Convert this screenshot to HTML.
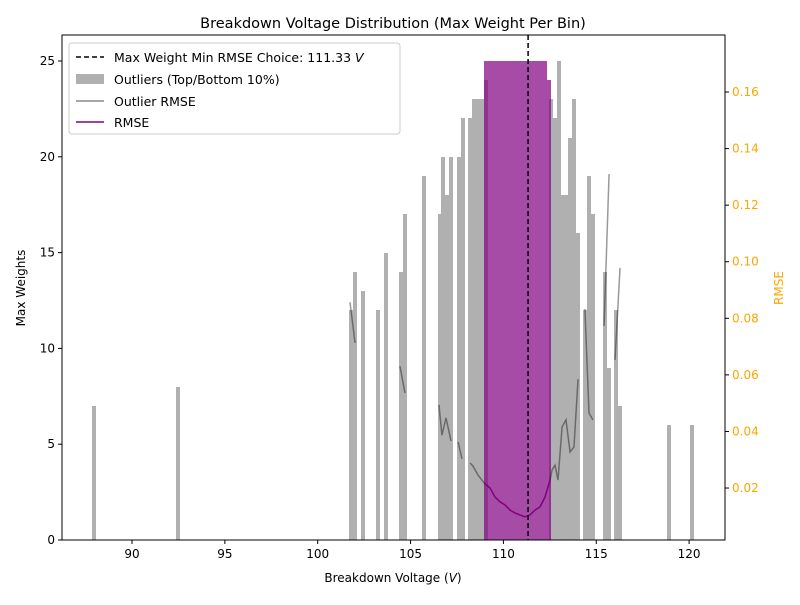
<!DOCTYPE html>
<html><head><meta charset="utf-8"><style>
body{margin:0;background:#fff}
svg{font-family:"DejaVu Sans","Liberation Sans",sans-serif}
</style></head><body>
<svg id="chart" width="800" height="600" xmlns="http://www.w3.org/2000/svg">
<rect width="800" height="600" fill="#fff"/>
<text x="393" y="28" text-anchor="middle" font-size="14.5">Breakdown Voltage Distribution (Max Weight Per Bin)</text>
<g id="plot"></g>
<text x="393" y="582" text-anchor="middle" font-size="12">Breakdown Voltage (<tspan font-style="italic">V</tspan>)</text>
<text transform="translate(25,288) rotate(-90)" text-anchor="middle" font-size="12">Max Weights</text>
<text transform="translate(783,288) rotate(-90)" text-anchor="middle" font-size="12" fill="orange">RMSE</text>
<g>
<rect x="69" y="43" width="331" height="91" rx="3" fill="#fff" fill-opacity="0.8" stroke="#ccc"/>
<line x1="76" y1="57" x2="104" y2="57" stroke="#000" stroke-width="1.5" stroke-dasharray="5,3"/>
<text x="114" y="62" font-size="12.5">Max Weight Min RMSE Choice: 111.33 <tspan font-style="italic">V</tspan></text>
<rect x="76" y="74" width="28" height="10" fill="#b0b0b0"/>
<text x="114" y="84" font-size="12.5">Outliers (Top/Bottom 10%)</text>
<line x1="76" y1="101" x2="104" y2="101" stroke="#8a8a8a" stroke-width="1.5"/>
<text x="114" y="106" font-size="12.5">Outlier RMSE</text>
<line x1="76" y1="122" x2="104" y2="122" stroke="purple" stroke-width="1.5"/>
<text x="114" y="127" font-size="12.5">RMSE</text>
</g>
</svg>
<script>
const grayX=[87.85,92.37,101.69,101.90,102.33,103.14,103.57,104.38,104.60,105.62,106.48,106.64,106.86,107.07,107.50,107.72,108.09,108.31,108.52,108.74,108.96,112.46,112.67,112.89,113.05,113.26,113.48,113.69,113.91,114.29,114.50,114.72,115.36,115.58,115.96,116.17,118.81,120.05];
const grayH=[7,8,12,14,13,12,15,14,17,19,17,20,18,20,20,22,22,23,23,23,24,23,22,25,18,18,21,23,16,12,19,17,14,9,12,7,6,6];
const purpleX=[108.96,109.16,109.36,109.56,109.76,109.96,110.16,110.36,110.56,110.76,110.96,111.16,111.36,111.56,111.76,111.96,112.16,112.36];
const purpleH=[25,25,25,25,25,25,25,25,25,25,25,25,25,25,25,25,25,24];
const rmseX=[108.96,109.28,109.55,109.82,110.09,110.36,110.62,110.89,111.16,111.43,111.70,111.97,112.24,112.51];
const rmseY=[0.0218,0.0200,0.0168,0.0151,0.0140,0.0122,0.0112,0.0105,0.0098,0.0105,0.0122,0.0133,0.0168,0.0228];
const outSegX=[[101.74,102.01],[104.43,104.70],[106.53,106.69,106.91,107.18],[107.56,107.77],[108.20,108.36,108.63,108.96],[112.51,112.62,112.78,112.94,113.16,113.37,113.59,113.80,114.02],[114.39,114.61,114.82],[115.42,115.69],[116.01,116.28]];
const outSegY=[[0.0857,0.0713],[0.0631,0.0536],[0.0494,0.0387,0.0448,0.0366],[0.0363,0.0303],[0.0289,0.0278,0.0246,0.0218],[0.0228,0.0264,0.0281,0.0228,0.0416,0.0441,0.0327,0.0345,0.0585],[0.0833,0.0465,0.0441],[0.0773,0.1310],[0.0653,0.0978]];
const xTicks=[90,95,100,105,110,115,120];
const yTicks=[0,5,10,15,20,25];
const y2Ticks=[0.02,0.04,0.06,0.08,0.10,0.12,0.14,0.16];
const choice=111.33, binW=0.2;
const L=62,R=725,T=35,B=540;
const sx=v=>132+(v-90)*18.57;
const sy=v=>540-v*19.16;
const sy2=v=>544.6-v*2828.6;
const NS="http://www.w3.org/2000/svg";
const g=document.getElementById('plot');
function mk(t,a,p){const e=document.createElementNS(NS,t);for(const k in a)e.setAttribute(k,a[k]);(p||g).appendChild(e);return e;}
function bar(x,h,fill,op){const x0=Math.round(sx(x)),x1=Math.round(sx(x+binW));const y0=Math.round(sy(h));
return mk('rect',{x:x0,y:y0,width:x1-x0,height:B-y0,fill:fill,'fill-opacity':op,'shape-rendering':'crispEdges'});}
grayX.forEach((x,i)=>{const e=bar(x,grayH[i],'#b0b0b0',1);

});
purpleX.forEach((x,i)=>{const e=bar(x,purpleH[i],'purple',0.7);

});
outSegX.forEach((xs,j)=>{const e=mk('polyline',{points:xs.map((x,i)=>sx(x)+','+sy2(outSegY[j][i])).join(' '),fill:'none',stroke:'#000','stroke-opacity':0.4,'stroke-width':1.5});

});
const rl=mk('polyline',{points:rmseX.map((x,i)=>sx(x)+','+sy2(rmseY[i])).join(' '),fill:'none',stroke:'purple','stroke-width':1.5});


const dl=mk('line',{x1:sx(choice),x2:sx(choice),y1:T,y2:B,stroke:'#000','stroke-width':1.5,'stroke-dasharray':'5,3'});


const fr=mk('rect',{x:L,y:T,width:R-L,height:B-T,fill:'none',stroke:'#000','stroke-width':1});


xTicks.forEach(v=>{mk('line',{x1:sx(v),x2:sx(v),y1:B,y2:B+4,stroke:'#000'});
const t=mk('text',{x:sx(v),y:B+18,'text-anchor':'middle','font-size':12});t.textContent=v;

});
yTicks.forEach(v=>{mk('line',{x1:L-4,x2:L,y1:sy(v),y2:sy(v),stroke:'#000'});
const t=mk('text',{x:L-7,y:sy(v)+4,'text-anchor':'end','font-size':12});t.textContent=v;

});
y2Ticks.forEach(v=>{mk('line',{x1:R,x2:R+4,y1:sy2(v),y2:sy2(v),stroke:'#000'});
const t=mk('text',{x:R+7,y:sy2(v)+4,'font-size':12,fill:'orange'});t.textContent=v.toFixed(2);

});
</script>
</body></html>
